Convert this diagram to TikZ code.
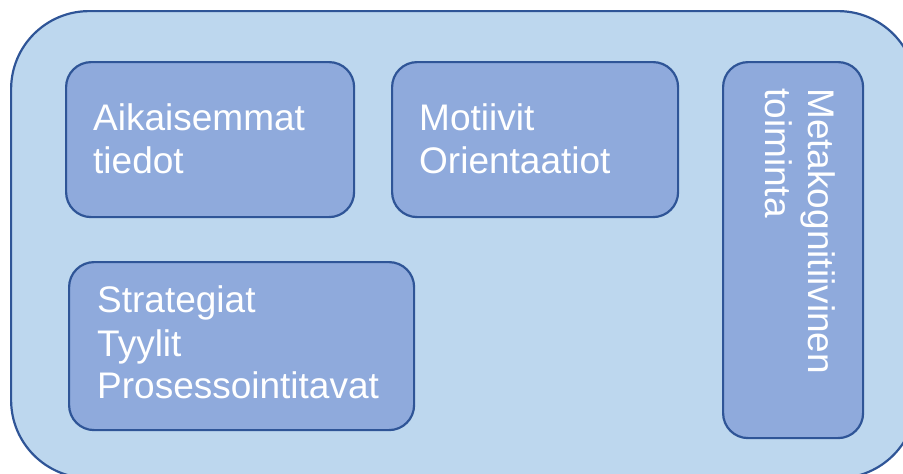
\documentclass[tikz,border=0pt]{standalone}
\usepackage{fontspec}
\setmainfont{Liberation Sans}
\definecolor{outerfill}{HTML}{BDD7EE}
\definecolor{innerfill}{HTML}{8FAADC}
\definecolor{edgeblue}{HTML}{2F5597}
\begin{document}
\begin{tikzpicture}[x=1pt,y=-1pt,
  outerbox/.style={draw=edgeblue, fill=outerfill, line width=2.2pt, rounded corners=78pt, anchor=north west, inner sep=0pt},
  innerbox/.style={draw=edgeblue, fill=innerfill, line width=2.2pt, rounded corners=25pt, anchor=north west, inner sep=0pt},
  label/.style={text=white, font=\fontsize{37}{44}\selectfont, inner sep=0pt, anchor=base west}]
\useasboundingbox (0,0) rectangle (903,474);
\begin{scope}
\clip (0,0) rectangle (903,474);
\node[outerbox, minimum width=905pt, minimum height=467pt] (outer) at (10,10) {};
\end{scope}
\node[innerbox, minimum width=288pt, minimum height=155pt] (prior) at (65,61) {};
\node[innerbox, minimum width=286pt, minimum height=155pt] (motives) at (391,61) {};
\node[innerbox, minimum width=140pt, minimum height=376pt] (meta) at (722,61) {};
\node[innerbox, minimum width=345pt, minimum height=168pt] (strategies) at (68,261) {};
\node[label] (t1a) at (93,130) {Aikaisemmat};
\node[label] (t1b) at (93,173) {tiedot};
\node[label] (t2a) at (419,130) {Motiivit};
\node[label] (t2b) at (419,173) {Orientaatiot};
\node[label] (t3a) at (97,312) {Strategiat};
\node[label] (t3b) at (97,356) {Tyylit};
\node[label] (t3c) at (97,398) {Prosessointitavat};
\node[label, rotate=-90] (t4a) at (808,88) {Metakognitiivinen};
\node[label, rotate=-90] (t4b) at (765,88) {toiminta};
\end{tikzpicture}
\end{document}
